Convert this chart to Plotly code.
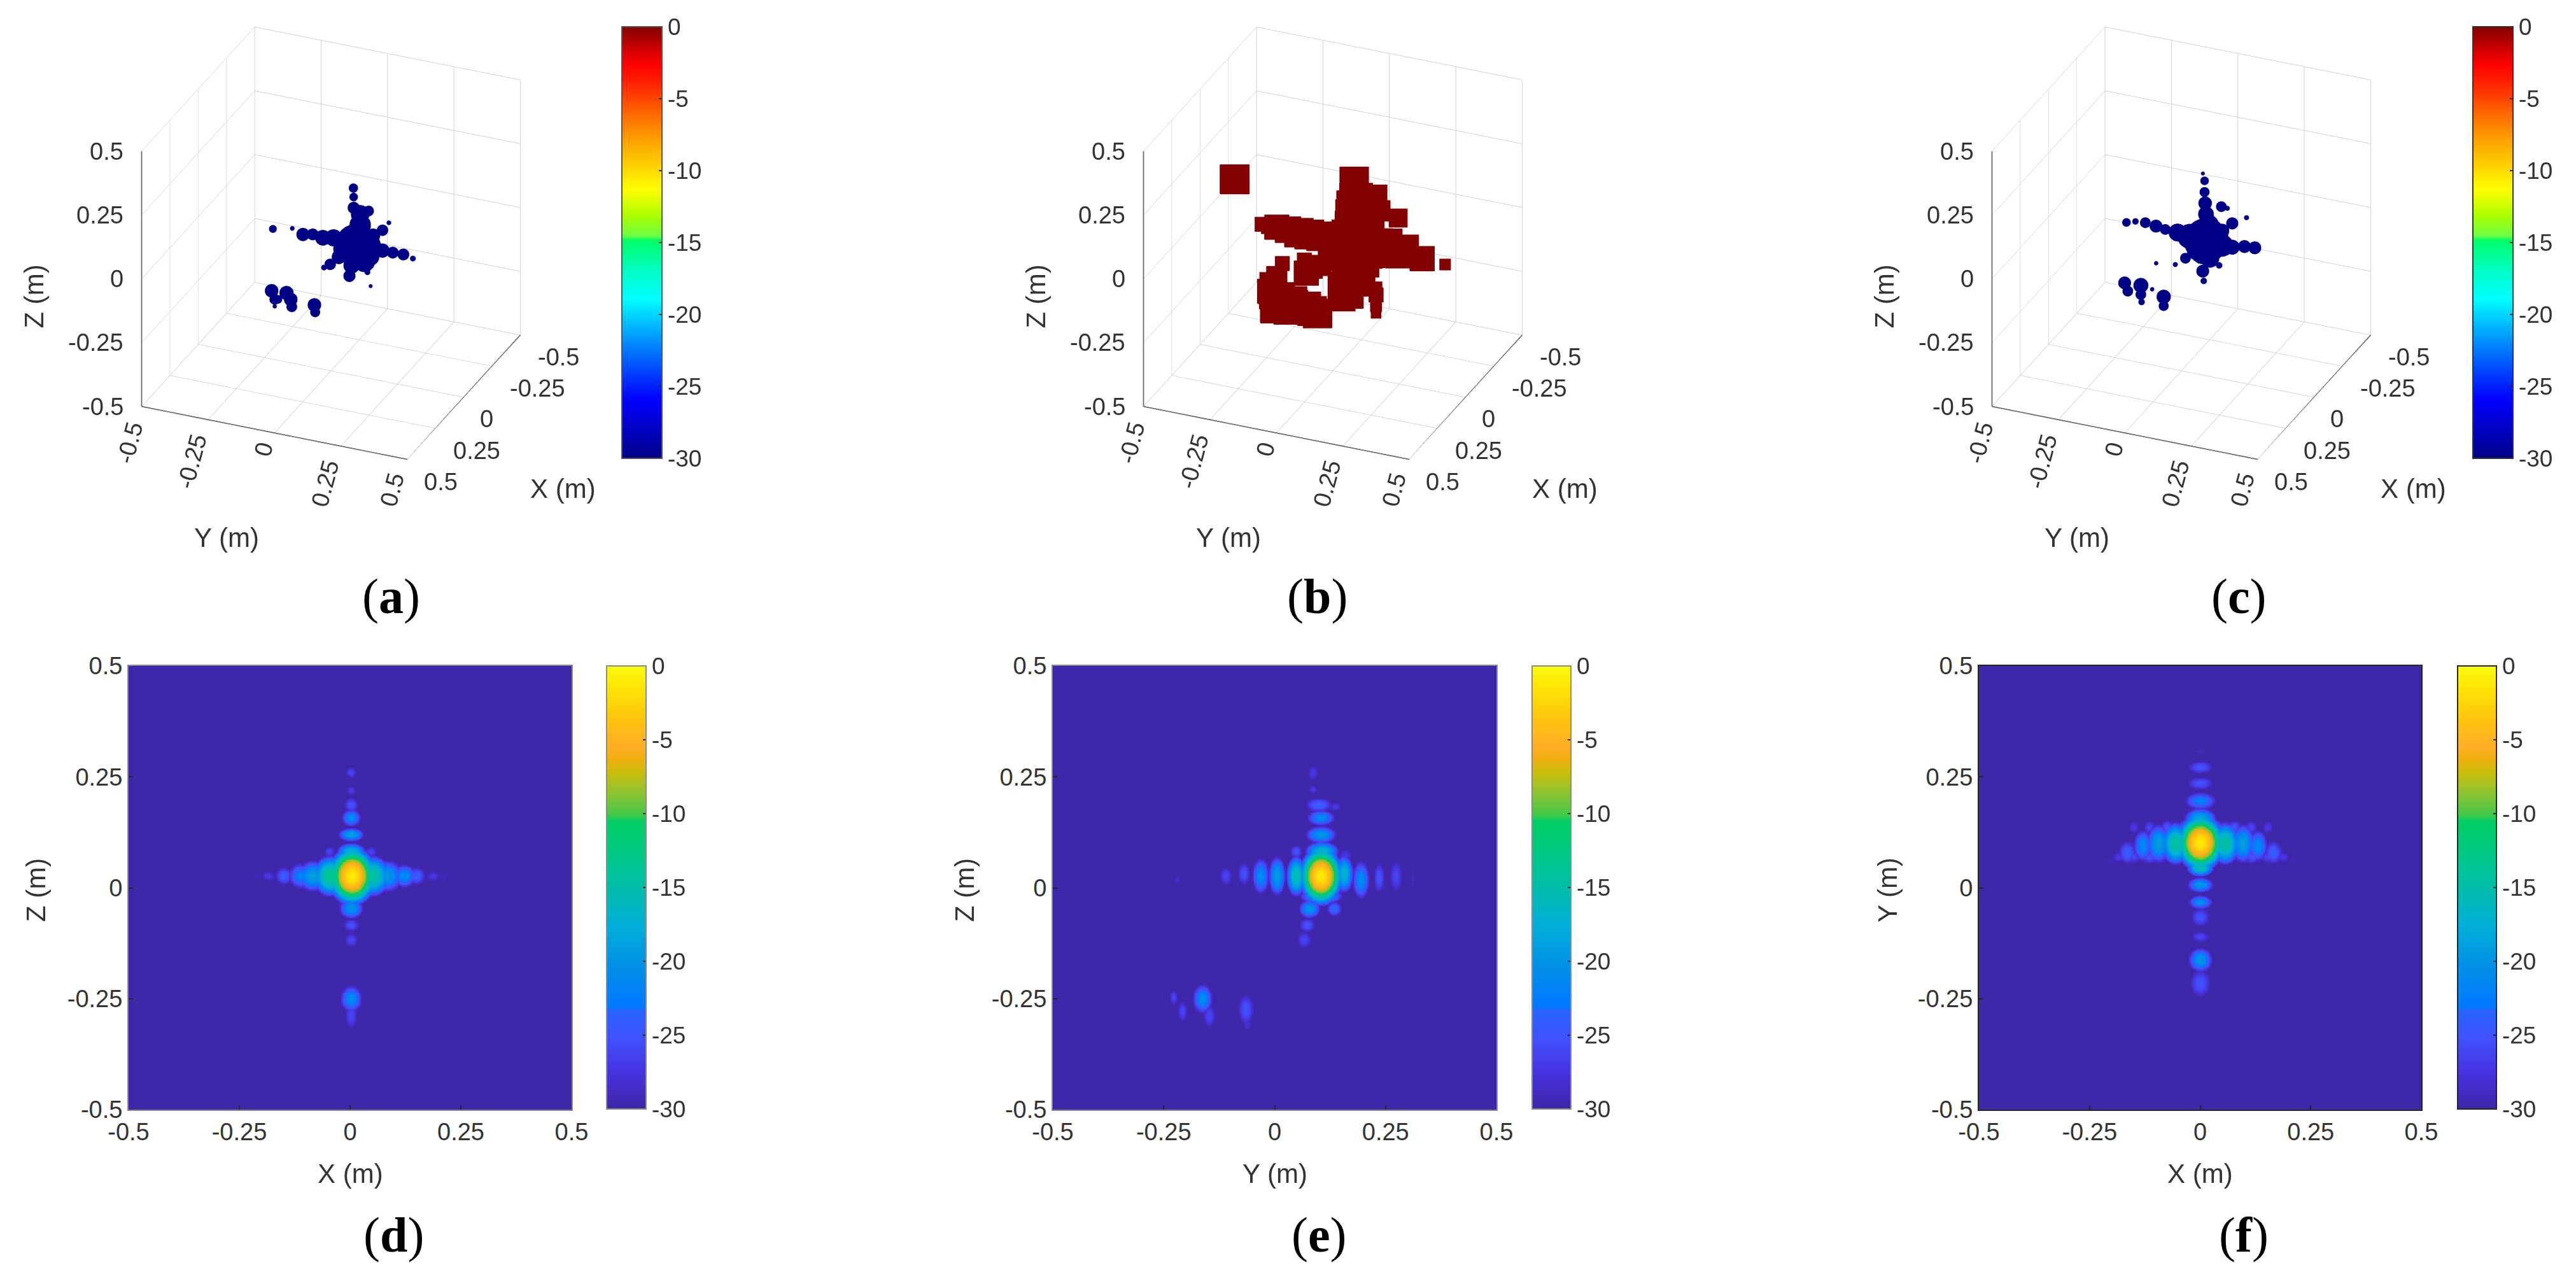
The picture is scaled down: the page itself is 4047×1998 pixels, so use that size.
import numpy as np
import plotly.graph_objects as go

W, H = 4047, 1998
FONT = "Liberation Sans"
TXT = "#333333"

ticks = [-0.5, -0.25, 0, 0.25, 0.5]
tick_labels = ["-0.5", "-0.25", "0", "0.25", "0.5"]
cb_ticks = [-30, -25, -20, -15, -10, -5, 0]
cb_labels = ["-30", "-25", "-20", "-15", "-10", "-5", "0"]

jet_scale = [
    [0, "rgb(0,0,135)"], [0.137, "rgb(0,0,255)"], [0.25, "rgb(0,120,255)"],
    [0.37, "rgb(0,255,255)"], [0.44, "rgb(0,255,190)"], [0.505, "rgb(0,255,100)"],
    [0.515, "rgb(110,255,70)"], [0.56, "rgb(170,255,0)"], [0.623, "rgb(255,255,0)"],
    [0.75, "rgb(255,150,0)"], [0.875, "rgb(255,30,0)"], [0.913, "rgb(255,0,0)"],
    [1, "rgb(130,0,0)"],
]
parula_scale = [
    [0, "rgb(62,38,168)"], [0.084, "rgb(70,50,225)"], [0.157, "rgb(65,80,250)"],
    [0.223, "rgb(40,100,255)"], [0.229, "rgb(0,120,255)"], [0.328, "rgb(0,145,230)"],
    [0.414, "rgb(0,175,215)"], [0.5, "rgb(0,190,170)"], [0.58, "rgb(0,200,130)"],
    [0.649, "rgb(0,205,100)"], [0.665, "rgb(70,200,70)"], [0.712, "rgb(140,195,50)"],
    [0.758, "rgb(200,190,10)"], [0.79, "rgb(240,175,15)"], [0.817, "rgb(255,175,40)"],
    [0.877, "rgb(255,195,15)"], [0.943, "rgb(255,225,5)"], [1, "rgb(248,250,15)"],
]

# panel (a): blobs of the -30 dB isosurface, x/y/z and blob diameter in metres
a_x = [0, 0, 0, 0, 0, 0, 0, 0, 0, 0, 0, 0, 0, 0, 0, 0, 0,
       0, 0, 0, 0, 0, 0, 0, 0, 0, 0,
       -0.166, -0.107, -0.058, 0.134, 0.196, 0.227,
       0, 0, 0, 0, 0, 0, 0, 0, 0]
a_y = [-0.219, -0.146, -0.106, -0.069, -0.031, 0.009, 0.045, 0.093, 0.061, 0.133, 0.125, 0.149, 0.157, 0.193, 0.232, 0.272, 0.308,
       0.084, 0.085, 0.085, 0.109, 0.109, 0.141, 0.077, 0.069, 0.137, 0.149,
       0.147, 0.148, 0.133, 0.086, 0.08, 0.07,
       -0.224, -0.212, -0.212, -0.2, -0.168, -0.152, -0.148, -0.063, -0.06]
a_z = [0.011, 0.028, 0.013, 0.021, 0.016, 0.024, 0.015, 0.017, -0.007, 0.017, -0.044, -0.022, 0.017, 0.012, 0.012, 0.013, 0.004,
       0.234, 0.199, 0.157, 0.137, 0.095, 0.156, -0.07, -0.113, -0.085, -0.137,
       0.03, 0.03, 0.03, 0.03, 0.03, 0.03,
       -0.232, -0.263, -0.291, -0.261, -0.229, -0.251, -0.279, -0.254, -0.282]
a_d = [0.022, 0.013, 0.037, 0.033, 0.044, 0.048, 0.052, 0.115, 0.08, 0.08, 0.06, 0.048, 0.048, 0.04, 0.033, 0.033, 0.016,
       0.026, 0.024, 0.034, 0.052, 0.06, 0.03, 0.046, 0.034, 0.016, 0.011,
       0.013, 0.032, 0.04, 0.04, 0.032, 0.016,
       0.038, 0.03, 0.012, 0.024, 0.04, 0.038, 0.03, 0.038, 0.028]

# panel (b): blocks of the 0 dB threshold view
b_y = [-0.371, -0.267, -0.212, -0.129, -0.046, 0.024, 0.107, 0.189, 0.259, 0.335, 0.422,
       0.079, 0.086, 0.079, 0.072, 0.079, 0.051, 0.037, 0.169, 0.176, 0.245, 0.162,
       -0.101, -0.046, 0.01, -0.108, 0.162, 0.162, 0.162, 0.162,
       -0.191, -0.212, -0.239, -0.212, -0.17, -0.101, -0.059, -0.239, -0.129,
       -0.24, -0.17, -0.09, 0.065, 0.15, 0.08, 0.08, 0.08, 0.075, 0.07, 0.035,
       -0.24, -0.2, -0.15, -0.2, -0.08, 0.1, 0.16, 0.13, -0.02, -0.07]
b_z = [0.176, 0.02, 0.021, 0.017, 0.02, 0.019, 0.008, 0.025, 0.024, 0.011, 0.005,
       0.261, 0.191, 0.117, 0.029, -0.07, -0.177, -0.208, 0.229, 0.165, 0.151, 0.091,
       -0.136, -0.095, -0.056, -0.087, -0.14, -0.168, -0.212, -0.24,
       -0.118, -0.173, -0.236, -0.289, -0.294, -0.266, -0.285, -0.265, -0.227,
       0.02, 0.02, 0.018, 0.015, 0.015, 0.23, 0.155, 0.07, -0.02, -0.12, -0.16,
       -0.2, -0.25, -0.27, -0.29, -0.28, -0.03, 0.12, -0.06, -0.07, -0.12]
b_d = [0.09, 0.045, 0.076, 0.089, 0.089, 0.102, 0.127, 0.115, 0.102, 0.076, 0.035,
       0.089, 0.102, 0.115, 0.127, 0.127, 0.102, 0.076, 0.057, 0.064, 0.057, 0.051,
       0.076, 0.064, 0.064, 0.045, 0.038, 0.045, 0.036, 0.032,
       0.045, 0.064, 0.076, 0.102, 0.089, 0.089, 0.089, 0.064, 0.051,
       0.05, 0.08, 0.09, 0.12, 0.12, 0.08, 0.11, 0.12, 0.13, 0.11, 0.09,
       0.06, 0.09, 0.09, 0.09, 0.09, 0.1, 0.04, 0.07, 0.06, 0.05]

# panel (c)
c_y = [-0.207, -0.173, -0.136, -0.096, -0.061, -0.015, 0.031, 0.092, 0.153, 0.191, 0.237, 0.276,
       0.08, 0.107, 0.08, 0.084, 0.142,
       0.081, 0.087, 0.087, 0.089, 0.092, 0.1, 0.15, 0.173,
       0.245, 0.191, 0.153, -0.023, 0.015, 0.054, -0.095,
       -0.214, -0.202, -0.153, -0.153, -0.15, -0.11, -0.067, -0.067]
c_z = [0.039, 0.05, 0.053, 0.048, 0.042, 0.04, 0.035, 0.033, 0.024, 0.025, 0.037, 0.04,
       -0.015, -0.036, -0.092, -0.13, -0.057,
       0.29, 0.263, 0.219, 0.176, 0.134, 0.093, 0.175, 0.173,
       0.151, 0.118, 0.081, -0.088, -0.055, -0.018, -0.098,
       -0.199, -0.229, -0.196, -0.232, -0.261, -0.203, -0.223, -0.259]
c_d = [0.024, 0.018, 0.03, 0.036, 0.03, 0.05, 0.07, 0.125, 0.062, 0.042, 0.036, 0.036,
       0.07, 0.052, 0.036, 0.018, 0.018,
       0.011, 0.024, 0.028, 0.038, 0.044, 0.06, 0.03, 0.014,
       0.014, 0.034, 0.04, 0.014, 0.03, 0.05, 0.012,
       0.036, 0.03, 0.042, 0.03, 0.018, 0.012, 0.04, 0.028]

# panel (d): X-Z image, lobe centre, peak dB, half widths at -30 dB
d_x = [0.004, 0.002, 0.002, 0.002, 0.002, 0.002, 0.002, -0.047, 0.047, 0.002, 0.002, 0.002, 0.002, 0.002, 0.002,
       0.05, -0.045, -0.085, 0.085, -0.113, 0.122, -0.15, 0.15, -0.185, 0.187, -0.21, 0.207, 0.002]
d_z = [0.027, 0.26, 0.22, 0.187, 0.158, 0.12, 0.082, 0.082, 0.082, -0.018, -0.046, -0.084, -0.117, -0.25, -0.288,
       0.027, 0.027, 0.027, 0.027, 0.027, 0.027, 0.027, 0.027, 0.027, 0.027, 0.027, 0.027, 0.06]
d_peak = [-1, -26, -27, -25, -21, -19, -17, -26, -26, -19, -20, -25, -26, -21, -26,
          -14, -13, -19, -20, -22, -21, -24, -24, -27, -27, -29, -29, -15]
d_rx = [0.058, 0.012, 0.01, 0.016, 0.022, 0.03, 0.034, 0.012, 0.012, 0.034, 0.028, 0.017, 0.015, 0.025, 0.013,
        0.042, 0.042, 0.034, 0.034, 0.027, 0.027, 0.019, 0.019, 0.015, 0.015, 0.014, 0.014, 0.03]
d_rz = [0.07, 0.012, 0.01, 0.016, 0.02, 0.016, 0.02, 0.011, 0.011, 0.018, 0.024, 0.014, 0.015, 0.031, 0.03,
        0.048, 0.048, 0.036, 0.036, 0.029, 0.027, 0.02, 0.02, 0.01, 0.01, 0.007, 0.007, 0.022]

# panel (e): Y-Z image
e_y = [0.104, 0.156, 0.194, 0.235, 0.273, 0.31, 0.048, 0.005, -0.032, -0.07, -0.11, -0.22,
       0.106, 0.104, 0.104, 0.099, 0.136, 0.086, 0.086, 0.048, 0.159,
       0.104, 0.078, 0.134, 0.073, 0.066,
       -0.163, -0.148, -0.228, -0.208, -0.065, -0.062]
e_z = [0.027, 0.032, 0.018, 0.023, 0.026, 0.018, 0.027, 0.027, 0.027, 0.032, 0.027, 0.018,
       0.082, 0.12, 0.158, 0.187, 0.183, 0.222, 0.26, 0.082, 0.073,
       -0.018, -0.047, -0.047, -0.084, -0.117,
       -0.25, -0.288, -0.247, -0.278, -0.274, -0.306]
e_peak = [-1, -17, -21, -25, -26, -29, -15, -19, -21, -25, -26, -28,
          -17, -20, -21, -24, -27, -27, -27, -25, -27,
          -19, -20, -23, -25, -26,
          -21, -26, -26, -26, -25, -28]
e_rx = [0.052, 0.022, 0.02, 0.012, 0.014, 0.005, 0.023, 0.02, 0.02, 0.014, 0.014, 0.007,
        0.04, 0.036, 0.032, 0.03, 0.013, 0.009, 0.011, 0.014, 0.014,
        0.05, 0.025, 0.017, 0.018, 0.016,
        0.023, 0.014, 0.009, 0.011, 0.018, 0.01]
e_rz = [0.07, 0.044, 0.044, 0.034, 0.034, 0.022, 0.048, 0.046, 0.042, 0.025, 0.02, 0.009,
        0.024, 0.02, 0.018, 0.016, 0.009, 0.009, 0.016, 0.014, 0.014,
        0.02, 0.022, 0.017, 0.016, 0.018,
        0.034, 0.025, 0.017, 0.023, 0.034, 0.015]

# panel (f): X-Y image
f_x = [0, 0, 0, 0, 0, 0, 0, 0, 0, 0, 0, 0, 0,
       0.056, -0.056, 0.096, -0.095, 0.13, -0.13, 0.165, -0.165,
       -0.15, -0.115, -0.075, -0.035, 0.036, 0.077, 0.115, 0.152,
       -0.185, -0.15, -0.115, 0.117, 0.152, 0.187, -0.205, 0.212]
f_y = [0.102, 0.309, 0.272, 0.236, 0.196, 0.155, 0.046, 0.007, -0.032, -0.066, -0.11, -0.162, -0.215,
       0.1, 0.1, 0.1, 0.1, 0.095, 0.095, 0.08, 0.08,
       0.137, 0.137, 0.137, 0.137, 0.137, 0.137, 0.137, 0.137,
       0.07, 0.07, 0.07, 0.07, 0.07, 0.07, 0.062, 0.062]
f_peak = [-1, -29, -25, -25, -22, -18, -15, -20, -21, -25, -26, -20, -25,
          -14, -14, -19, -19, -21, -21, -24, -24,
          -27, -26, -25, -24, -24, -25, -26, -27,
          -27, -26, -25, -25, -26, -27, -29, -29]
f_rx = [0.058, 0.014, 0.028, 0.028, 0.036, 0.038, 0.032, 0.03, 0.028, 0.021, 0.021, 0.028, 0.023,
        0.034, 0.034, 0.028, 0.028, 0.022, 0.022, 0.02, 0.02,
        0.012, 0.013, 0.015, 0.017, 0.017, 0.015, 0.013, 0.012,
        0.013, 0.015, 0.017, 0.017, 0.015, 0.013, 0.012, 0.012]
f_ry = [0.068, 0.006, 0.014, 0.014, 0.02, 0.026, 0.021, 0.018, 0.016, 0.02, 0.011, 0.028, 0.031,
        0.05, 0.05, 0.045, 0.045, 0.036, 0.036, 0.026, 0.026,
        0.013, 0.014, 0.016, 0.017, 0.017, 0.016, 0.014, 0.013,
        0.011, 0.013, 0.015, 0.015, 0.013, 0.011, 0.007, 0.007]


def lobe_field(u0s, v0s, peaks, rus, rvs, axis):
    # dB image rebuilt from the lobes, floored at -30
    U, V = np.meshgrid(axis, axis)
    field = np.full(U.shape, -30.0)
    for u0, v0, pk, ru, rv in zip(u0s, v0s, peaks, rus, rvs):
        field = np.maximum(field, pk + (-30 - pk) * (((U - u0) / ru) ** 2 + ((V - v0) / rv) ** 2))
    return field


def paper_x(px):
    return px / W


def paper_y(py):
    return 1 - py / H


def txt(size=38, color=TXT, family=FONT):
    return dict(family=family, size=size, color=color)


def colorbar(left, right, top, bottom, frame):
    return dict(
        x=paper_x(left), xanchor="left", xpad=0,
        y=paper_y(top), yanchor="top", ypad=0,
        lenmode="pixels", len=bottom - top,
        thicknessmode="pixels", thickness=right - left,
        tickvals=cb_ticks, ticktext=cb_labels, ticks="inside", ticklen=6,
        tickcolor="#262626", tickwidth=2, tickfont=txt(37),
        outlinecolor=frame, outlinewidth=2,
    )


fig = go.Figure()
annotations = []

# --- 3D panels ---
axis_off = dict(
    range=[-0.5, 0.5], autorange=False, tickvals=ticks, showticklabels=False, ticks="",
    title=dict(text=""), showbackground=False, showline=False, zeroline=False,
    showspikes=False, showgrid=True, gridcolor="#d2d2d2", gridwidth=2,
)
eye = dict(x=0.813, y=0.346, z=0.4675)
CUBE_SCALE = 1.26
PX_PER_M = 451
ROUND_GLYPH = 1.45  # the round glyph draws smaller than its nominal size
SQUARE_GLYPH = 1.2
SCENE_W, SCENE_H = 900, 720
SCENE_CY = 382


def frame_trace(scene):
    xs, ys, zs = [], [], []
    for a, b in [((0.5, -0.5, -0.5), (0.5, -0.5, 0.5)),
                 ((0.5, -0.5, -0.5), (0.5, 0.5, -0.5)),
                 ((-0.5, 0.5, -0.5), (0.5, 0.5, -0.5))]:
        xs += [a[0], b[0], None]
        ys += [a[1], b[1], None]
        zs += [a[2], b[2], None]
    for t in ticks:
        xs += [0.5, 0.5, None, t, t, None, 0.5, 0.54, None]
        ys += [-0.5, -0.53, None, 0.5, 0.54, None, t, t, None]
        zs += [t, t, None, -0.5, -0.5, None, -0.5, -0.5, None]
    return go.Scatter3d(x=xs, y=ys, z=zs, mode="lines", line=dict(color="#262626", width=3),
                        hoverinfo="skip", showlegend=False, scene=scene)


def scene_texts():
    out = []
    for t, lab in zip(ticks, tick_labels):
        out.append(dict(x=0.5, y=-0.5, z=t, text=lab, showarrow=False, font=txt(38),
                        xanchor="right", yanchor="middle", xshift=-26, yshift=0))
    x_shift = [(60, -35), (71, -35), (36, -34), (65, -35), (53, -35)]
    for t, lab, (dx, dy) in zip(ticks, tick_labels, x_shift):
        out.append(dict(x=t, y=0.5, z=-0.5, text=lab, showarrow=False, font=txt(38),
                        xanchor="center", yanchor="middle", xshift=dx, yshift=dy))
    y_shift = [(-19, -57), (-25, -65), (-17, -26), (-25, -59), (-24, -47)]
    for t, lab, (dx, dy) in zip(ticks, tick_labels, y_shift):
        out.append(dict(x=0.5, y=t, z=-0.5, text=lab, showarrow=False, font=txt(38), textangle=-75,
                        xanchor="center", yanchor="middle", xshift=dx, yshift=dy))
    out.append(dict(x=0.5, y=0.5, z=-0.5, text="X (m)", showarrow=False, font=txt(42),
                    xanchor="center", yanchor="middle", xshift=245, yshift=-46))
    out.append(dict(x=0.5, y=-0.5, z=-0.5, text="Y (m)", showarrow=False, font=txt(42),
                    xanchor="center", yanchor="middle", xshift=134, yshift=-206))
    out.append(dict(x=0.5, y=-0.5, z=0, text="Z (m)", showarrow=False, font=txt(42), textangle=-90,
                    xanchor="center", yanchor="middle", xshift=-169, yshift=-27))
    return out


panels_3d = [
    ("scene", a_x, a_y, a_z, a_d, -30, 520, "circle", ROUND_GLYPH, colorbar(977, 1040, 42, 720, "#555555")),
    ("scene2", [0] * len(b_y), b_y, b_z, b_d, 0, 2094, "square", SQUARE_GLYPH, None),
    ("scene3", [0] * len(c_y), c_y, c_z, c_d, -30, 3427, "circle", ROUND_GLYPH, colorbar(3885, 3948, 42, 720, "#333333")),
]
for name, xs, ys, zs, ds, level, cx, symbol, glyph, cb in panels_3d:
    fig.add_trace(frame_trace(name))
    fig.add_trace(go.Scatter3d(
        x=xs, y=ys, z=zs, mode="markers", scene=name, showlegend=False, hoverinfo="skip",
        marker=dict(size=[d * PX_PER_M * glyph for d in ds], symbol=symbol, color=[level] * len(xs),
                    cmin=-30, cmax=0, colorscale=jet_scale, opacity=1, line=dict(width=0),
                    showscale=cb is not None, colorbar=cb),
    ))
    fig.update_layout({name: dict(
        domain=dict(x=[paper_x(cx - SCENE_W / 2), paper_x(cx + SCENE_W / 2)],
                    y=[paper_y(SCENE_CY + SCENE_H / 2), paper_y(SCENE_CY - SCENE_H / 2)]),
        xaxis=axis_off, yaxis=axis_off, zaxis=axis_off,
        aspectmode="manual", aspectratio=dict(x=CUBE_SCALE, y=CUBE_SCALE, z=CUBE_SCALE), dragmode=False,
        camera=dict(eye=eye, up=dict(x=0, y=0, z=1), center=dict(x=0, y=0, z=0),
                    projection=dict(type="orthographic")),
        annotations=scene_texts(),
    )})

# --- image panels ---
grid = np.linspace(-0.5, 0.5, 501)
panels_2d = [
    ("", d_x, d_z, d_peak, d_rx, d_rz, 202, 898, 953, 1015, "#8c8c8c", "X (m)", "Z (m)", 56),
    ("2", e_y, e_z, e_peak, e_rx, e_rz, 1654, 2351, 2407, 2468, "#8c8c8c", "Y (m)", "Z (m)", 1515),
    ("3", f_x, f_y, f_peak, f_rx, f_ry, 3109, 3804, 3861, 3922, "#262626", "X (m)", "Y (m)", 2965),
]
TOP_2D, BOTTOM_2D = 1046, 1743
for suffix, us, vs, peaks, rus, rvs, left, right, cb_l, cb_r, frame, xt, yt, yt_x in panels_2d:
    fig.add_trace(go.Heatmap(
        x=grid, y=grid, z=lobe_field(us, vs, peaks, rus, rvs, grid), zmin=-30, zmax=0,
        colorscale=parula_scale, zsmooth="best", hoverinfo="skip",
        xaxis="x" + suffix, yaxis="y" + suffix,
        colorbar=colorbar(cb_l, cb_r, TOP_2D, BOTTOM_2D - 1, frame),
    ))
    common = dict(range=[-0.5, 0.5], tickvals=ticks, ticktext=tick_labels, ticks="inside", ticklen=7,
                  tickcolor="#262626", tickwidth=2, tickfont=txt(38), showgrid=False, zeroline=False,
                  showline=True, linecolor=frame, linewidth=2, mirror=True)
    fig.update_layout({
        "xaxis" + suffix: dict(common, domain=[paper_x(left), paper_x(right)], anchor="y" + suffix),
        "yaxis" + suffix: dict(common, domain=[paper_y(BOTTOM_2D), paper_y(TOP_2D)], anchor="x" + suffix),
    })
    annotations.append(dict(x=paper_x((left + right) / 2), y=paper_y(1843), xref="paper", yref="paper",
                            text=xt, showarrow=False, font=txt(42), xanchor="center", yanchor="middle"))
    annotations.append(dict(x=paper_x(yt_x), y=paper_y(1398), xref="paper", yref="paper",
                            text=yt, showarrow=False, font=txt(42), textangle=-90,
                            xanchor="center", yanchor="middle"))

panel_tags = [("a", 614, 937), ("b", 2069, 937), ("c", 3517, 937),
              ("d", 618, 1939), ("e", 2072, 1939), ("f", 3525, 1939)]
for tag, px, py in panel_tags:
    annotations.append(dict(x=paper_x(px), y=paper_y(py), xref="paper", yref="paper",
                            text="(<b>%s</b>)" % tag, showarrow=False,
                            font=txt(78, "#000000", "Liberation Serif"),
                            xanchor="center", yanchor="middle"))

fig.update_layout(
    width=W, height=H, autosize=False,
    margin=dict(l=0, r=0, t=0, b=0, autoexpand=False),
    paper_bgcolor="white", plot_bgcolor="white", showlegend=False,
    annotations=annotations,
)

# the page's default body margin would shift everything by 8 px
fig.write_html("out.html", config=dict(displayModeBar=False),
               post_script="document.body.style.margin='0';")
